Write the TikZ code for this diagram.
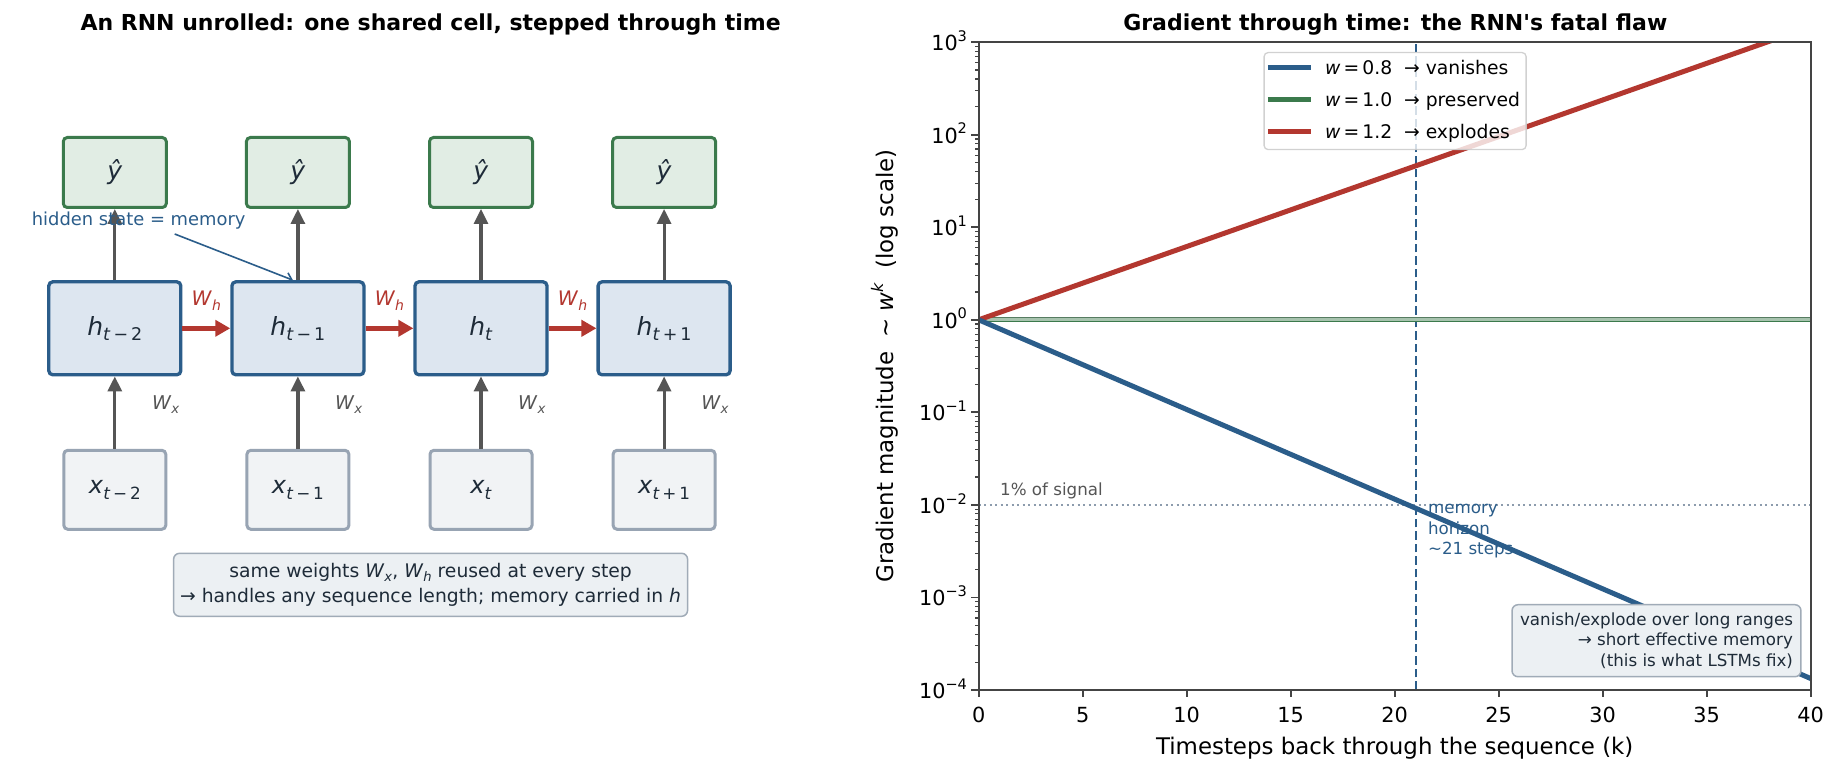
\documentclass[tikz,border=0pt]{standalone}
\usepackage{fontspec}
\setmainfont{DejaVu Sans}
\usepackage{graphicx}
\usetikzlibrary{arrows.meta,calc}

\definecolor{hblue}{HTML}{2B5D8A}
\definecolor{hfill}{HTML}{DDE6F0}
\definecolor{ygreen}{HTML}{3B7A4C}
\definecolor{yfill}{HTML}{E1EDE4}
\definecolor{xgray}{HTML}{98A4B3}
\definecolor{xfill}{HTML}{F1F3F5}
\definecolor{rred}{HTML}{B3372F}
\definecolor{agray}{HTML}{555555}
\definecolor{txt}{HTML}{1E2B38}
\definecolor{notefill}{HTML}{ECF0F3}
\definecolor{notebrd}{HTML}{A0ABB7}
\definecolor{dotc}{HTML}{8D9CAD}
\definecolor{spine}{HTML}{444444}
\definecolor{legbrd}{HTML}{CCCCCC}

\newcommand{\mv}[1]{\textit{#1}}
\newcommand{\lowsub}[1]{\raisebox{-0.22em}{\scalebox{0.7}{#1}}}
\newcommand{\highsup}[1]{\raisebox{0.45em}{\scalebox{0.7}{#1}}}
\newcommand{\fsz}[1]{\fontsize{#1}{#1}\selectfont}
\newcommand{\straightq}{\XeTeXglyph\XeTeXcharglyph"0027\relax}

\begin{document}
\begin{tikzpicture}[x=1pt,y=-1pt,
  yhatbox/.style={draw=ygreen, fill=yfill, line width=3pt, rounded corners=4pt,
    minimum width=103pt, minimum height=70pt, inner sep=0pt, text=txt, font=\fsz{25}},
  hbox/.style={draw=hblue, fill=hfill, line width=3.3pt, rounded corners=4pt,
    minimum width=132pt, minimum height=93pt, inner sep=0pt, text=txt, font=\fsz{25}},
  xbox/.style={draw=xgray, fill=xfill, line width=3pt, rounded corners=4pt,
    minimum width=102pt, minimum height=79pt, inner sep=0pt, text=txt, font=\fsz{24}},
  garrow/.style={draw=agray, line width=3.2pt, -{Triangle[length=15pt,width=14pt]}},
  rarrow/.style={draw=rred, line width=4.5pt, -{Triangle[length=15pt,width=16pt]}},
  whlab/.style={text=rred, font=\fsz{20}, inner sep=0pt, anchor=base},
  wxlab/.style={text=agray, font=\fsz{19}, inner sep=0pt, anchor=base west},
  ttl/.style={font=\bfseries\fsz{22}, inner sep=0pt, anchor=base},
  tickl/.style={draw=spine, line width=1.7pt},
  tickm/.style={draw=spine, line width=1.2pt},
  ticklab/.style={font=\fsz{20.8}, inner sep=0pt},
]
\fill[white] (0,0) rectangle (1840,775);
\useasboundingbox (0,0) rectangle (1840,775);

% ---------------- left panel ----------------
\node[ttl] (ltitle) at (430.6,31) {An RNN unrolled: one shared cell, stepped through time};

\node[yhatbox] (y1) at (114.8,172.5) {\mv{ŷ}};
\node[yhatbox] (y2) at (297.9,172.5) {\mv{ŷ}};
\node[yhatbox] (y3) at (481.0,172.5) {\mv{ŷ}};
\node[yhatbox] (y4) at (664.1,172.5) {\mv{ŷ}};

\node[hbox] (h1) at (114.8,328.3) {\mv{h}\lowsub{\mv{t}\,−\,2}};
\node[hbox] (h2) at (297.9,328.3) {\mv{h}\lowsub{\mv{t}\,−\,1}};
\node[hbox] (h3) at (481.0,328.3) {\mv{h}\lowsub{\mv{t}}};
\node[hbox] (h4) at (664.1,328.3) {\mv{h}\lowsub{\mv{t}\,+\,1}};

\node[xbox] (x1) at (114.8,489.8) {\mv{x}\lowsub{\mv{t}\,−\,2}};
\node[xbox] (x2) at (297.9,489.8) {\mv{x}\lowsub{\mv{t}\,−\,1}};
\node[xbox] (x3) at (481.0,489.8) {\mv{x}\lowsub{\mv{t}}};
\node[xbox] (x4) at (664.1,489.8) {\mv{x}\lowsub{\mv{t}\,+\,1}};

\foreach \i in {1,2,3,4}{
  \draw[garrow] (x\i.north) -- (h\i.south);
  \draw[garrow] (h\i.north) -- (y\i.south);
  \node[wxlab] (wx\i) at ($(x\i.north)+(37,-39.6)$) {\mv{W}\lowsub{\mv{x}}};
}
\draw[rarrow] (h1.east) -- (h2.west) node[whlab, midway, yshift=22.6pt] (wh1) {\mv{W}\lowsub{\mv{h}}};
\draw[rarrow] (h2.east) -- (h3.west) node[whlab, midway, yshift=22.6pt] (wh2) {\mv{W}\lowsub{\mv{h}}};
\draw[rarrow] (h3.east) -- (h4.west) node[whlab, midway, yshift=22.6pt] (wh3) {\mv{W}\lowsub{\mv{h}}};

\node[text=hblue, font=\fsz{17.9}, inner sep=0pt, anchor=base] (hs) at (138.7,226) {hidden state = memory};
\coordinate (hsfoot) at (174.7,234);
\draw[draw=hblue, line width=1.6pt, -{Straight Barb[length=6pt,width=10pt]}] (hsfoot) -- ($(h2.north)+(-5,0)$);

\node[draw=notebrd, fill=notefill, line width=1.5pt, rounded corners=6pt,
  minimum width=514pt, minimum height=63pt, inner xsep=2pt, align=center, text=txt,
  font=\fontsize{18.75}{25.8}\selectfont] (note1) at (430.6,584.8)
  {same weights \mv{W}\lowsub{\mv{x}}, \mv{W}\lowsub{\mv{h}} reused at every step\\
   → handles any sequence length; memory carried in \mv{h}};

% ---------------- right panel ----------------
\node[ttl] (rtitle) at (1395.3,31) {Gradient through time: the RNN\straightq s fatal flaw};

\begin{scope}[shift={(978.7,319.8)}, x=20.8pt, y=92.54pt]
  \begin{scope}
    \clip (0,-4) rectangle (40,3);
    % 1% line
    \draw[draw=dotc, line width=2pt, dash pattern=on 2pt off 3.5pt] (0,-2) -- (40,-2);
    % horizon
    \draw[draw=hblue, line width=2pt, dash pattern=on 8.5pt off 4pt] (21,-4) -- (21,3);
    % curves
    \draw[line width=5.2pt, draw=ygreen!45!white] (0,0) -- (40,0);
    \draw[line width=0.9pt, draw=ygreen!60!gray] ($(0,0)+(0pt,2.3pt)$) -- ($(40,0)+(0pt,2.3pt)$);
    \draw[line width=1.8pt, draw=ygreen] ($(0,0)+(0pt,-1.7pt)$) -- ($(40,0)+(0pt,-1.7pt)$);
    \draw[line width=5pt, draw=rred] (0,0) -- (40,3.1672);
    \draw[line width=5pt, draw=hblue] (0,0) -- (40,-3.8764);
  \end{scope}
  % annotations
  \node[text=agray, font=\fsz{16.7}, inner sep=0pt, anchor=base west] (sig) at ($(0,-2)+(21.3pt,9pt)$) {1\% of signal};
  \node[text=hblue, font=\fontsize{16.7}{20.5}\selectfont, inner sep=0pt, anchor=north west, align=left] (hor) at ($(21,-2)+(12.3pt,0.5pt)$) {memory\\horizon\\\char"007E 21 steps};
  % legend
  \node[draw=legbrd, line width=1.3pt, fill=white, fill opacity=0.8, draw opacity=0.9, rounded corners=4pt,
    minimum width=262pt, minimum height=97pt, inner sep=0pt] (leg) at ($(0,3)+(416.4pt,-58.9pt)$) {};
  \coordinate (l1) at ($(leg.north west)+(4.4pt,-15.5pt)$);
  \coordinate (l2) at ($(leg.north west)+(4.4pt,-47.5pt)$);
  \coordinate (l3) at ($(leg.north west)+(4.4pt,-79.5pt)$);
  \draw[line width=5pt, draw=hblue] (l1) -- ++(43pt,0pt);
  \draw[line width=5pt, draw=ygreen] (l2) -- ++(43pt,0pt);
  \draw[line width=5pt, draw=rred] (l3) -- ++(43pt,0pt);
  \node[font=\fsz{18.75}, inner sep=0pt, anchor=base west] (lt1) at ($(l1)+(57pt,-6.6pt)$) {\mv{w}\,=\,0.8\ \ → vanishes};
  \node[font=\fsz{18.75}, inner sep=0pt, anchor=base west] (lt2) at ($(l2)+(57pt,-6.6pt)$) {\mv{w}\,=\,1.0\ \ → preserved};
  \node[font=\fsz{18.75}, inner sep=0pt, anchor=base west] (lt3) at ($(l3)+(57pt,-6.6pt)$) {\mv{w}\,=\,1.2\ \ → explodes};
  % note box
  \node[draw=notebrd, fill=notefill, line width=1.5pt, rounded corners=6pt, align=right,
    inner xsep=8pt, minimum height=72pt, text=txt, anchor=south east,
    font=\fontsize{16.7}{20.9}\selectfont] (note2) at ($(40,-4)+(-9pt,12.5pt)$)
    {vanish/explode over long ranges\\→ short effective memory\\(this is what LSTMs fix)};
  % spines
  \draw[draw=spine, line width=2.2pt] (0,-4) rectangle (40,3);
  % ticks
  \foreach \k in {0,5,...,40}{
    \draw[tickl] (\k,-4) -- ++(0pt,-7.3pt);
    \node[ticklab, anchor=base] at ($(\k,-4)+(0pt,-33pt)$) {\k};
  }
  \foreach \L/\lab in {3/3,2/2,1/1,0/0,-1/−1,-2/−2,-3/−3,-4/−4}{
    \draw[tickl] (0,\L) -- ++(-7.3pt,0pt);
    \node[ticklab, anchor=base east] at ($(0,\L)+(-11.5pt,-8.5pt)$) {10\highsup{\lab}};
  }
  \foreach \d in {-4,...,2}{
    \foreach \m in {2,...,9}{
      \draw[tickm] (0,{\d+ln(\m)/ln(10)}) -- ++(-4.2pt,0pt);
    }
  }
\end{scope}

\node[font=\fsz{22.9}, inner sep=0pt, anchor=base] (xlab) at (1394.7,754) {Timesteps back through the sequence (k)};
\node[font=\fsz{22.9}, inner sep=0pt, anchor=base, rotate=90] (ylab) at (893.3,366) {Gradient magnitude\ \ ∼\;\mv{w}\highsup{\mv{k}}\ \ (log scale)};

\end{tikzpicture}
\end{document}
